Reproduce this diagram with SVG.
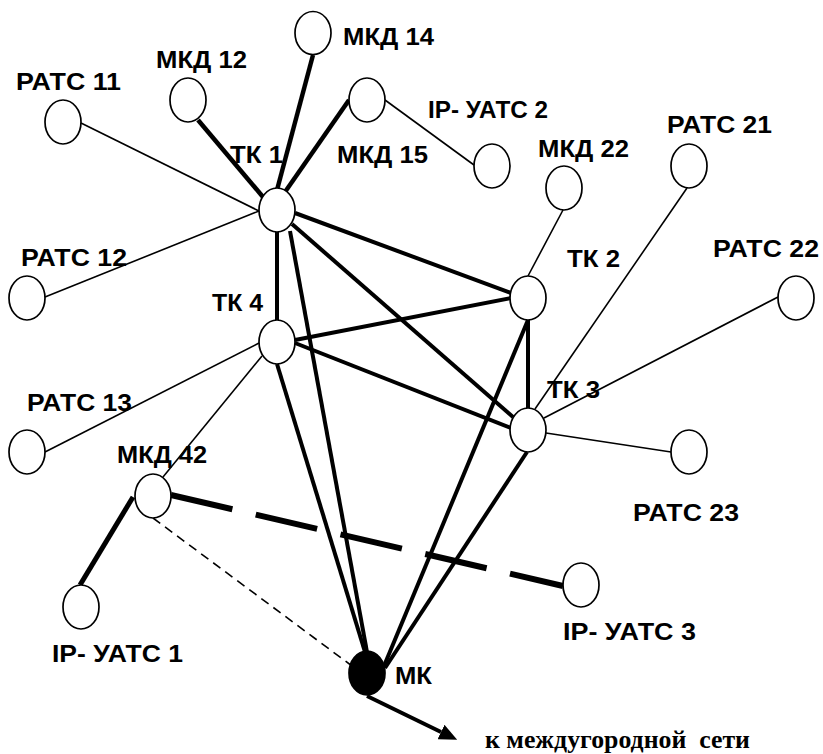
<svg xmlns="http://www.w3.org/2000/svg" width="823" height="754" viewBox="0 0 823 754">
<style>
.n{fill:#fff;stroke:#000;stroke-width:1.7}
.mk{fill:#000;stroke:#000;stroke-width:1.7}
.t{fill:none;stroke:#000;stroke-width:1.6}
.k{fill:none;stroke:#000;stroke-width:4}
.l{font-family:"Liberation Sans",Arial,sans-serif;font-weight:bold;font-size:23px;fill:#000}
.s{font-family:"Liberation Serif","Times New Roman",serif;font-weight:bold;font-size:25px;fill:#000}
</style>
<defs>
<marker id="ah" markerUnits="userSpaceOnUse" markerWidth="18" markerHeight="16" refX="0" refY="8" orient="auto">
<path d="M0,0 L18,8 L0,16 z" fill="#000"/>
</marker>
</defs>
<rect width="823" height="754" fill="#fff"/>
<g id="connectors">
<line class="t" x1="81" y1="123" x2="259" y2="211"/>
<line class="t" x1="45" y1="297" x2="259" y2="211"/>
<line class="t" x1="385" y1="100" x2="474" y2="165"/>
<line class="t" x1="563" y1="210" x2="528" y2="276"/>
<line class="t" x1="687" y1="188" x2="535" y2="409"/>
<line class="t" x1="778" y1="297" x2="544" y2="418"/>
<line class="t" x1="546" y1="433" x2="671" y2="452"/>
<line class="t" x1="45" y1="452" x2="259" y2="343"/>
<line class="t" x1="163" y1="477" x2="262" y2="356"/>
<line class="k" style="stroke-width:4.5" x1="198" y1="120" x2="263" y2="197"/>
<line class="k" style="stroke-width:4.5" x1="313" y1="55" x2="277" y2="190"/>
<line class="k" style="stroke-width:4.5" x1="349" y1="100" x2="285" y2="192"/>
<line class="k" x1="295" y1="213" x2="511" y2="293"/>
<line class="k" x1="277" y1="232" x2="277" y2="320"/>
<line class="k" x1="292" y1="224" x2="513" y2="417"/>
<line class="k" x1="290" y1="231" x2="367" y2="652"/>
<line class="k" x1="295" y1="340" x2="511" y2="298"/>
<line class="k" x1="295" y1="343" x2="511" y2="428"/>
<line class="k" x1="277" y1="364" x2="365" y2="652"/>
<line class="k" x1="528" y1="320" x2="528" y2="408"/>
<line class="k" x1="528" y1="320" x2="384" y2="666"/>
<line class="k" x1="527" y1="452" x2="385" y2="668"/>
<line class="k" style="stroke-width:5" x1="133" y1="497" x2="80" y2="585"/>
<line class="k" style="stroke-width:6;stroke-dasharray:63 24" x1="171" y1="495" x2="563" y2="586"/>
<line class="t" style="stroke-dasharray:9 6" x1="153" y1="518" x2="352" y2="666"/>
<line class="k" x1="367" y1="696" x2="441" y2="732" marker-end="url(#ah)"/>
</g>
<g id="RATS11"><ellipse class="n" cx="63" cy="122" rx="18" ry="22"/><text class="l" x="16" y="90" textLength="105" lengthAdjust="spacingAndGlyphs">РАТС 11</text></g>
<g id="MKD12"><ellipse class="n" cx="188" cy="100" rx="18" ry="22"/><text class="l" x="156" y="68" textLength="91" lengthAdjust="spacingAndGlyphs">МКД 12</text></g>
<g id="MKD14"><ellipse class="n" cx="313" cy="33" rx="18" ry="21.5"/><text class="l" x="343" y="45" textLength="91" lengthAdjust="spacingAndGlyphs">МКД 14</text></g>
<g id="MKD15"><ellipse class="n" cx="367" cy="100" rx="18" ry="22"/><text class="l" x="337" y="163" textLength="91" lengthAdjust="spacingAndGlyphs">МКД 15</text></g>
<g id="TK1"><ellipse class="n" cx="277" cy="210" rx="18" ry="22"/><text class="l" x="230" y="163" textLength="53" lengthAdjust="spacingAndGlyphs">ТК 1</text></g>
<g id="IPUATS2"><ellipse class="n" cx="492" cy="166" rx="18" ry="22"/><text class="l" x="428" y="118" textLength="120" lengthAdjust="spacingAndGlyphs">IP- УАТС 2</text></g>
<g id="MKD22"><ellipse class="n" cx="564" cy="188" rx="18" ry="22"/><text class="l" x="538" y="157" textLength="91" lengthAdjust="spacingAndGlyphs">МКД 22</text></g>
<g id="RATS21"><ellipse class="n" cx="689" cy="166" rx="18" ry="22"/><text class="l" x="667" y="133" textLength="105" lengthAdjust="spacingAndGlyphs">РАТС 21</text></g>
<g id="RATS22"><ellipse class="n" cx="796" cy="298" rx="18" ry="22"/><text class="l" x="713" y="257" textLength="106" lengthAdjust="spacingAndGlyphs">РАТС 22</text></g>
<g id="TK2"><ellipse class="n" cx="528" cy="298" rx="18" ry="22"/><text class="l" x="567" y="267" textLength="53" lengthAdjust="spacingAndGlyphs">ТК 2</text></g>
<g id="TK3"><ellipse class="n" cx="528" cy="430" rx="18" ry="22"/><text class="l" x="547" y="398" textLength="53" lengthAdjust="spacingAndGlyphs">ТК 3</text></g>
<g id="RATS23"><ellipse class="n" cx="689" cy="452" rx="18" ry="22"/><text class="l" x="633" y="521" textLength="106" lengthAdjust="spacingAndGlyphs">РАТС 23</text></g>
<g id="RATS12"><ellipse class="n" cx="27" cy="298" rx="18" ry="22"/><text class="l" x="21" y="266" textLength="106" lengthAdjust="spacingAndGlyphs">РАТС 12</text></g>
<g id="TK4"><ellipse class="n" cx="277" cy="342" rx="18" ry="22"/><text class="l" x="212" y="311" textLength="51" lengthAdjust="spacingAndGlyphs">ТК 4</text></g>
<g id="RATS13"><ellipse class="n" cx="27" cy="452" rx="18" ry="22"/><text class="l" x="27" y="411" textLength="105" lengthAdjust="spacingAndGlyphs">РАТС 13</text></g>
<g id="MKD42"><ellipse class="n" cx="153" cy="496" rx="18" ry="22"/><text class="l" x="117" y="463" textLength="90" lengthAdjust="spacingAndGlyphs">МКД 42</text></g>
<g id="IPUATS1"><ellipse class="n" cx="81" cy="607" rx="18" ry="22"/><text class="l" x="52" y="662" textLength="131" lengthAdjust="spacingAndGlyphs">IP- УАТС 1</text></g>
<g id="IPUATS3"><ellipse class="n" cx="581" cy="585" rx="18" ry="22"/><text class="l" x="563" y="640" textLength="133" lengthAdjust="spacingAndGlyphs">IP- УАТС 3</text></g>
<g id="MK"><ellipse class="mk" cx="367" cy="673" rx="18" ry="22"/><text class="l" x="395" y="684" textLength="37" lengthAdjust="spacingAndGlyphs">МК</text></g>
<g id="long-distance"><text class="s" x="485" y="748" textLength="265" lengthAdjust="spacingAndGlyphs" xml:space="preserve">к междугородной  сети</text></g>
</svg>
